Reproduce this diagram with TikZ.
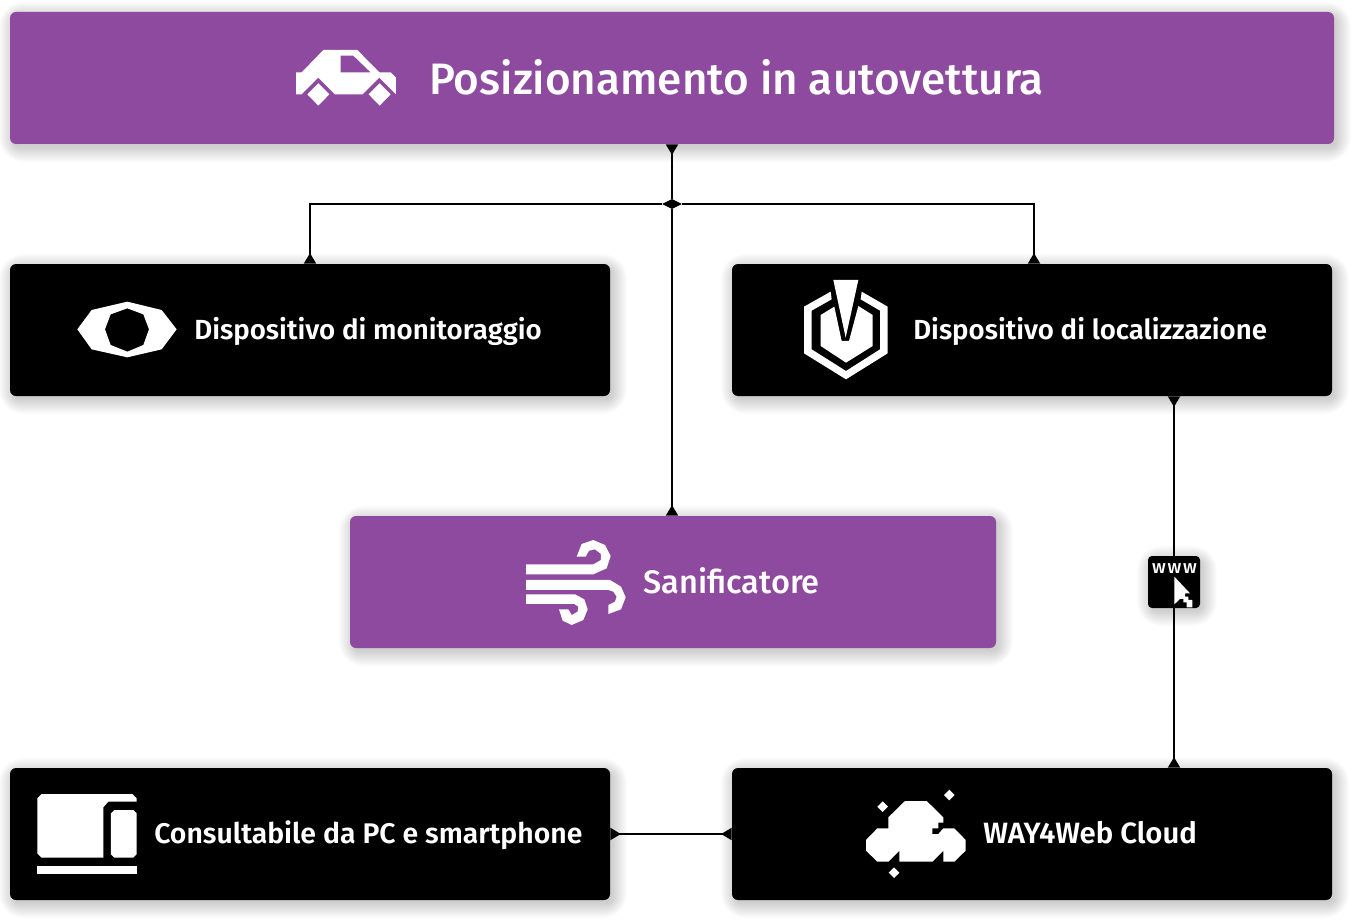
\documentclass[tikz,border=0pt]{standalone}
\usepackage{fontspec}
\setmainfont{Fira Sans Medium}
\newfontfamily\semifont{Fira Sans SemiBold}
\usetikzlibrary{arrows.meta,shapes.geometric,backgrounds}
\definecolor{wayviolet}{RGB}{142,74,158}
\tikzset{
  box/.style={rounded corners=4.5pt,minimum width=450pt,minimum height=99pt,inner sep=0pt},
  blackbox/.style={box,fill=black},
  violetbox/.style={box,fill=wayviolet},
  boxtext/.style={anchor=base west,inner sep=0pt,text=white,font=\fontsize{#1pt}{24pt}\selectfont},
  blacktext/.style={boxtext=#1,font=\fontsize{#1pt}{24pt}\semifont},
  link/.style={line width=1.5pt,>={Triangle[reversed,length=8pt,width=9pt]}},
  glyph/.style={fill=white,even odd rule}
}
\begin{document}
\begin{tikzpicture}[x=.75pt,y=-.75pt]
\useasboundingbox (0,0) rectangle (1356,920);

\node[violetbox,minimum width=993pt] (auto) at (672,78) {};
\node[blackbox] (monitor) at (310,330) {};
\node[blackbox] (locator) at (1032,330) {};
\node[violetbox,minimum width=484.5pt] (sanif) at (673,582) {};
\node[blackbox] (pc) at (310,834) {};
\node[blackbox] (cloud) at (1032,834) {};
\node[fill=black,diamond,aspect=2,minimum width=15pt,minimum height=7.5pt,inner sep=0pt] (hub) at (672,204) {};

\node[boxtext=33] (autotext) at (429,95) {Posizionamento in autovettura};
\node[blacktext=20.75] (monitortext) at (194,339) {Dispositivo di monitoraggio};
\node[blacktext=20.7] (locatortext) at (913,339) {Dispositivo di localizzazione};
\node[boxtext=24.4] (saniftext) at (643,593.5) {Sanificatore};
\node[blacktext=21.3] (pctext) at (154,843) {Consultabile da PC e smartphone};
\node[blacktext=22] (cloudtext) at (983,843) {WAY4Web Cloud};

% connectors
\draw[link,<-] (hub |- auto.south) -- (hub);
\draw[link,->] (hub) -- (hub |- sanif.north);
\draw[link,->] (hub) -| (monitor.north);
\draw[link,->] (hub) -| ([xshift=1.5pt]locator.north);
\draw[link,<->] ([xshift=106.5pt]locator.south) -- ([xshift=106.5pt]cloud.north);
\draw[link,<->] (pc) -- (cloud);

\node[fill=black,rounded corners=3pt,minimum size=39pt,inner sep=0pt] (www) at (1174,582) {};
\node[boxtext=14,anchor=center] (wwwtext) at (1174.5,569) {\addfontfeature{LetterSpace=10}www};

% soft shadows
\begin{pgfonlayer}{background}
\foreach \n in {auto,monitor,locator,sanif,pc,cloud,www}
  \foreach \s in {-2,-1,...,14}
    \fill[black,opacity=.011,rounded corners=5pt+\s pt] ([shift={(3-\s,4-\s)}]\n.north west) rectangle ([shift={(3+\s,4+\s)}]\n.south east);
\end{pgfonlayer}

% car
\begin{scope}[shift={(270,30)},scale=.3333]
\fill[glyph] (78,127) -- (95,127) -- (160,60) -- (262,60) -- (328,127) -- (362,127) -- (378,143) -- (378,193) -- (328,143) -- (278,193) -- (195,193) -- (145,143) -- (95,193) -- (78,193) -- cycle
  (212,77) -- (250,77) -- (302,127) -- (212,127) -- cycle;
\fill[glyph] (145,160) -- (178,193) -- (145,227) -- (112,193) -- cycle;
\fill[glyph] (329,160) -- (362,193) -- (329,227) -- (296,193) -- cycle;
\end{scope}

% eye
\begin{scope}[shift={(60,285)},scale=.3333]
\fill[glyph] (52,133) -- (95,75) -- (202,50) -- (305,75) -- (350,133) -- (305,193) -- (202,217) -- (95,193) -- cycle
  (202,70) -- (250,88) -- (267,133) -- (250,180) -- (202,200) -- (152,180) -- (135,133) -- (152,88) -- cycle;
\end{scope}

% locator
\begin{scope}[shift={(790,270)},scale=.3333]
\fill[glyph] (130,30) -- (205,30) -- (167,203) -- cycle;
\fill[glyph] (122,65) -- (42,110) -- (42,250) -- (168,328) -- (293,250) -- (293,110) -- (215,65) -- (212,88) -- (270,122) -- (270,238) -- (168,303) -- (65,238) -- (65,122) -- (125,88) -- cycle;
\fill[glyph] (92,135) -- (133,110) -- (155,213) -- (177,213) -- (205,108) -- (248,135) -- (248,228) -- (168,278) -- (92,228) -- cycle;
\end{scope}

% wind
\begin{scope}[shift={(515,530)},scale=.3333]
\fill[glyph] (33,133) -- (235,133) -- (275,115) -- (287,78) -- (270,45) -- (235,30) -- (200,42) -- (185,80) -- (212,80) -- (222,62) -- (240,58) -- (258,72) -- (258,90) -- (235,103) -- (33,103) -- cycle;
\fill[glyph] (33,150) -- (285,150) -- (318,170) -- (332,202) -- (318,238) -- (280,252) -- (280,225) -- (300,215) -- (305,200) -- (295,185) -- (280,180) -- (33,180) -- cycle;
\fill[glyph] (33,193) -- (180,193) -- (208,208) -- (218,238) -- (205,270) -- (170,285) -- (143,272) -- (132,238) -- (160,238) -- (170,255) -- (188,245) -- (190,230) -- (178,222) -- (33,222) -- cycle;
\end{scope}

% cursor
\begin{scope}[shift={(1135,545)},scale=.3333]
\fill[glyph] (118,95) -- (118,178) -- (135,162) -- (145,162) -- (145,172) -- (155,172) -- (155,187) -- (172,187) -- (172,165) -- (160,165) -- (160,155) -- (150,155) -- (150,145) -- (165,145) -- cycle;
\end{scope}

% cloud
\begin{scope}[shift={(855,780)},scale=.3333]
\fill[glyph] (150,63) -- (215,63) -- (265,112) -- (265,128) -- (250,128) -- (250,145) -- (232,145) -- (232,162) -- (250,162) -- (265,145) -- (298,145) -- (332,180) -- (332,212) -- (298,245) -- (265,245) -- (265,212) -- (232,245) -- (133,245) -- (133,212) -- (100,245) -- (67,245) -- (33,212) -- (33,180) -- (67,145) -- (100,145) -- (100,112) -- cycle;
\fill[glyph] (83,64) -- (99,80) -- (83,96) -- (67,80) -- cycle;
\fill[glyph] (283,29) -- (299,45) -- (283,61) -- (267,45) -- cycle;
\fill[glyph] (117,262) -- (133,278) -- (117,294) -- (101,278) -- cycle;
\end{scope}

% laptop and phone
\begin{scope}[shift={(25,785)},scale=.3333]
\fill[glyph] (50,27) -- (322,27) -- (335,40) -- (335,50) -- (250,50) -- (235,67) -- (235,218) -- (50,218) -- (37,205) -- (37,40) -- cycle;
\fill[glyph] (268,75) -- (325,75) -- (335,85) -- (335,208) -- (325,218) -- (268,218) -- (258,208) -- (258,85) -- cycle;
\fill[glyph] (37,243) rectangle (335,267);
\end{scope}
\end{tikzpicture}
\end{document}
